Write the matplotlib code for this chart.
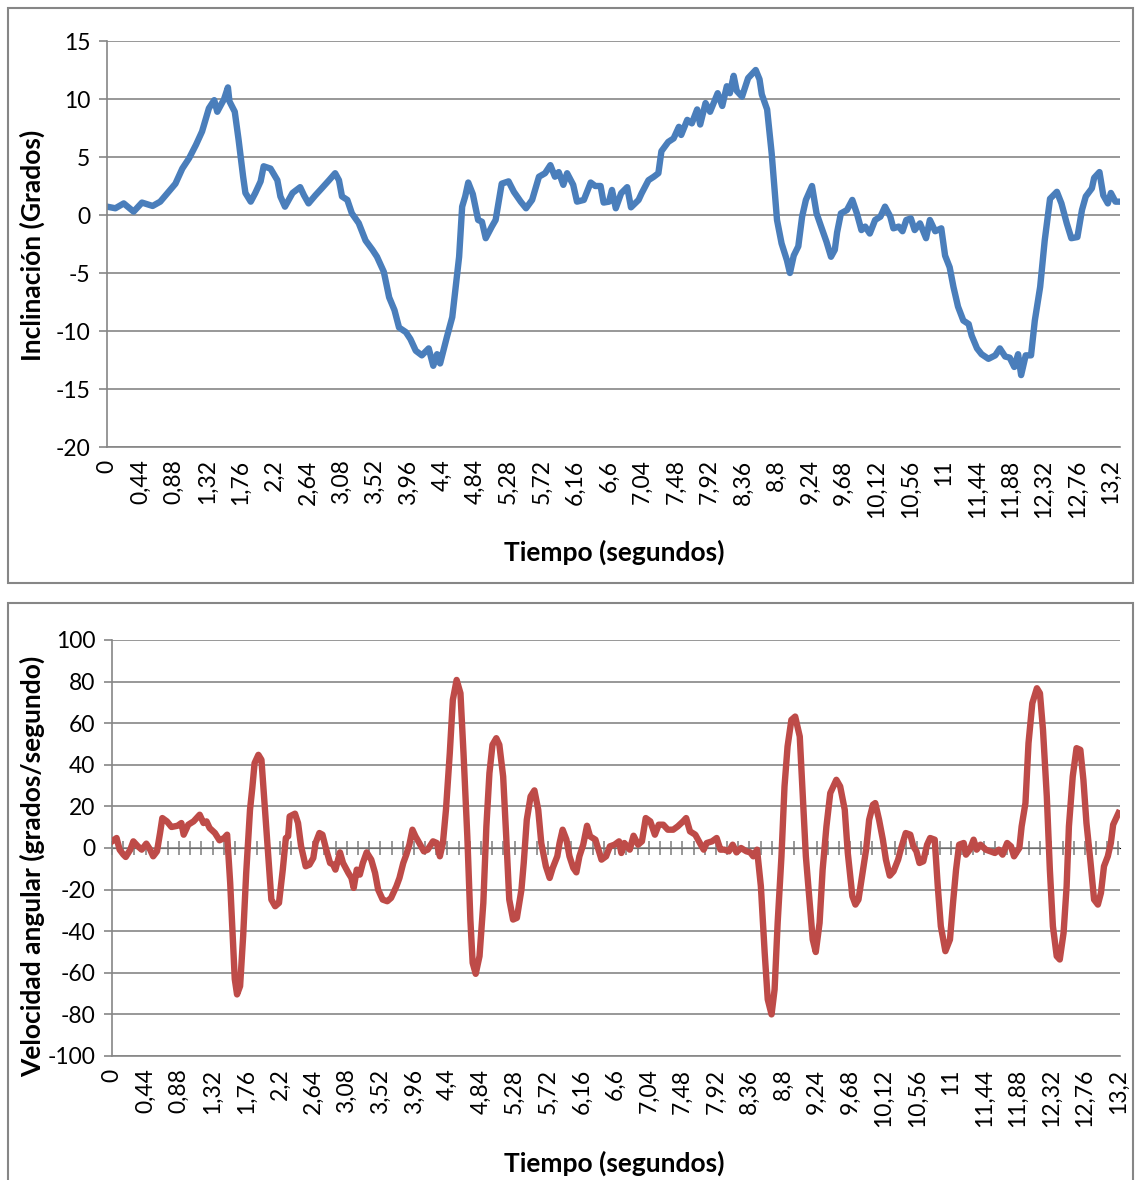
import matplotlib
matplotlib.use("Agg")
import matplotlib.pyplot as plt
from matplotlib.patches import Rectangle

plt.rcParams['font.family'] = ['Lato', 'DejaVu Sans']
plt.rcParams['axes.unicode_minus'] = False

# tilt angle (degrees) vs time (s)
t_incl = [0, 0.11, 0.22, 0.35, 0.46, 0.6, 0.7, 0.81, 0.9, 0.99, 1.08, 1.17, 1.25, 1.34, 1.41,
          1.45, 1.54, 1.59, 1.61, 1.68, 1.73, 1.79, 1.82, 1.89, 1.95, 2.02, 2.06, 2.15, 2.24,
          2.28, 2.34, 2.44, 2.54, 2.59, 2.65, 2.74, 2.81, 2.92, 3.0, 3.05, 3.09, 3.16, 3.22,
          3.31, 3.4, 3.49, 3.55, 3.64, 3.71, 3.78, 3.84, 3.93, 3.99, 4.06, 4.14, 4.23, 4.29,
          4.34, 4.38, 4.47, 4.54, 4.63, 4.67, 4.71, 4.75, 4.81, 4.88, 4.93, 4.98, 5.06, 5.11,
          5.19, 5.28, 5.35, 5.44, 5.51, 5.59, 5.68, 5.76, 5.83, 5.89, 5.94, 6.0, 6.05, 6.13,
          6.18, 6.27, 6.36, 6.42, 6.49, 6.53, 6.6, 6.64, 6.69, 6.76, 6.84, 6.89, 6.99, 7.03,
          7.12, 7.19, 7.25, 7.29, 7.38, 7.45, 7.52, 7.55, 7.63, 7.69, 7.76, 7.8, 7.87, 7.93,
          8.03, 8.09, 8.15, 8.19, 8.24, 8.28, 8.35, 8.43, 8.53, 8.58, 8.61, 8.68, 8.74, 8.81,
          8.87, 8.94, 8.98, 9.03, 9.09, 9.14, 9.19, 9.27, 9.33, 9.39, 9.46, 9.52, 9.57, 9.6,
          9.65, 9.73, 9.8, 9.86, 9.92, 9.97, 10.03, 10.1, 10.17, 10.23, 10.3, 10.34, 10.41,
          10.46, 10.51, 10.57, 10.62, 10.69, 10.77, 10.82, 10.89, 10.97, 11.02, 11.08, 11.13,
          11.19, 11.26, 11.33, 11.37, 11.44, 11.5, 11.59, 11.68, 11.74, 11.81, 11.87, 11.93,
          11.98, 12.02, 12.08, 12.15, 12.2, 12.27, 12.33, 12.4, 12.49, 12.55, 12.62, 12.68,
          12.76, 12.82, 12.87, 12.95, 12.98, 13.05, 13.1, 13.16, 13.2, 13.26, 13.32]
incl = [0.72, 0.58, 1.0, 0.29, 1.07, 0.78, 1.15, 2.0, 2.7, 4.0, 4.9, 6.05, 7.2, 9.2, 9.9,
        8.9, 10.0, 11.0, 9.8, 8.9, 6.5, 3.3, 1.9, 1.15, 1.9, 2.9, 4.2, 4.0, 3.0,
        1.6, 0.72, 1.9, 2.4, 1.7, 1.0, 1.7, 2.2, 3.0, 3.6, 3.0, 1.6, 1.3, 0.14,
        -0.7, -2.2, -3.0, -3.6, -4.9, -7.1, -8.2, -9.7, -10.1, -10.7, -11.7, -12.1, -11.5, -13.0,
        -12.0, -12.8, -10.5, -8.8, -3.6, 0.72, 1.6, 2.8, 1.8, -0.43, -0.58, -2.0, -1.0, -0.43,
        2.7, 2.9, 2.0, 1.15, 0.58, 1.3, 3.3, 3.6, 4.3, 3.3, 3.7, 2.6, 3.6, 2.6,
        1.15, 1.3, 2.8, 2.5, 2.5, 1.07, 1.15, 2.16, 0.58, 1.87, 2.4, 0.66, 1.3, 1.87,
        3.0, 3.3, 3.6, 5.5, 6.3, 6.6, 7.6, 6.9, 8.2, 7.9, 9.1, 7.8, 9.65, 8.9,
        10.5, 9.4, 11.1, 10.5, 12.0, 10.7, 10.2, 11.8, 12.5, 11.7, 10.4, 9.1, 5.3, -0.43,
        -2.45, -3.9, -5.0, -3.5, -2.7, -0.14, 1.3, 2.5, 0.14, -1.0, -2.3, -3.6, -3.0, -1.5,
        0.14, 0.43, 1.3, 0.14, -1.3, -1.0, -1.6, -0.43, -0.14, 0.72, -0.14, -1.15, -1.0,
        -1.4, -0.43, -0.29, -1.3, -0.72, -2.0, -0.43, -1.4, -1.15, -3.5, -4.5, -6.2,
        -7.9, -9.1, -9.4, -10.4, -11.5, -12.0, -12.4, -12.1, -11.5, -12.2, -12.3, -13.1,
        -12.0, -13.8, -12.1, -12.1, -9.1, -6.2, -2.2, 1.4, 2.0, 1.0, -0.72, -2.0,
        -1.9, 0.43, 1.6, 2.3, 3.2, 3.7, 1.7, 1.0, 1.9, 1.15, 1.15]

# angular velocity (deg/s) vs time (s)
t_vel = [0, 0.06, 0.1, 0.15, 0.18, 0.24, 0.28, 0.34, 0.39, 0.45, 0.5, 0.54, 0.59, 0.63, 0.66,
         0.72, 0.78, 0.86, 0.91, 0.94, 1.0, 1.07, 1.15, 1.2, 1.24, 1.28, 1.35, 1.41, 1.47,
         1.51, 1.55, 1.59, 1.61, 1.64, 1.68, 1.72, 1.76, 1.81, 1.84, 1.87, 1.92, 1.96, 2.0,
         2.05, 2.09, 2.14, 2.19, 2.24, 2.28, 2.31, 2.33, 2.4, 2.44, 2.48, 2.54, 2.59, 2.64,
         2.67, 2.72, 2.76, 2.81, 2.86, 2.9, 2.93, 2.99, 3.03, 3.1, 3.14, 3.17, 3.21, 3.25,
         3.29, 3.34, 3.4, 3.45, 3.49, 3.55, 3.61, 3.66, 3.73, 3.77, 3.82, 3.86, 3.9, 3.94,
         3.98, 4.03, 4.09, 4.14, 4.21, 4.26, 4.3, 4.34, 4.38, 4.43, 4.47, 4.52, 4.57, 4.61,
         4.66, 4.7, 4.73, 4.77, 4.82, 4.87, 4.91, 4.95, 4.99, 5.04, 5.08, 5.13, 5.17, 5.21,
         5.26, 5.31, 5.37, 5.4, 5.44, 5.49, 5.54, 5.59, 5.63, 5.69, 5.74, 5.78, 5.84, 5.87,
         5.91, 5.96, 6.0, 6.05, 6.09, 6.13, 6.18, 6.23, 6.27, 6.34, 6.42, 6.48, 6.53, 6.59,
         6.65, 6.68, 6.72, 6.79, 6.84, 6.9, 6.95, 7.0, 7.06, 7.12, 7.17, 7.23, 7.29, 7.36,
         7.42, 7.49, 7.53, 7.58, 7.65, 7.71, 7.76, 7.8, 7.87, 7.93, 7.98, 8.03, 8.09, 8.14,
         8.19, 8.25, 8.32, 8.37, 8.41, 8.46, 8.51, 8.56, 8.6, 8.65, 8.69, 8.73, 8.78, 8.82,
         8.86, 8.91, 8.96, 9.02, 9.06, 9.1, 9.15, 9.19, 9.23, 9.28, 9.32, 9.37, 9.42, 9.5,
         9.55, 9.61, 9.65, 9.71, 9.75, 9.79, 9.85, 9.89, 9.93, 9.98, 10.01, 10.06, 10.11,
         10.15, 10.2, 10.25, 10.31, 10.35, 10.41, 10.47, 10.51, 10.55, 10.59, 10.64, 10.69,
         10.73, 10.79, 10.83, 10.87, 10.93, 10.99, 11.03, 11.07, 11.11, 11.17, 11.2, 11.25,
         11.3, 11.34, 11.39, 11.46, 11.52, 11.58, 11.63, 11.68, 11.74, 11.79, 11.83, 11.9,
         11.93, 11.98, 12.02, 12.07, 12.13, 12.17, 12.21, 12.26, 12.3, 12.34, 12.39, 12.43,
         12.48, 12.52, 12.55, 12.6, 12.65, 12.7, 12.74, 12.78, 12.83, 12.88, 12.93, 12.97,
         13.01, 13.06, 13.1, 13.13, 13.2]
vel = [3.2, 4.8, -0.8, -3.2, -4.3, -0.8, 3.2, 0.8, -0.8, 2.1, -0.8, -4.0, -1.6, 7.2, 14.4,
       12.8, 10.1, 10.7, 12.0, 6.4, 11.2, 12.8, 16.0, 12.0, 12.8, 9.6, 7.2, 3.7, 4.8,
       6.4, -16.8, -47.2, -63.0, -70.4, -66.4, -42.4, -12.0, 18.4, 28.8, 40.8, 44.8, 42.4, 21.6,
       -4.0, -24.8, -28.0, -26.4, -10.4, 4.8, 5.6, 15.2, 16.5, 12.0, 0.8, -8.8, -8.0, -4.8,
       2.4, 7.2, 6.4, -0.8, -7.2, -8.0, -10.4, -2.1, -7.2, -12.0, -14.4, -19.2, -10.4, -12.8,
       -7.2, -2.1, -5.6, -12.0, -20.0, -24.8, -25.6, -24.0, -18.4, -14.4, -7.2, -3.2, 1.6, 8.8,
       5.6, 2.4, -1.6, -0.8, 3.2, 2.4, -4.0, 2.4, 18.4, 45.6, 71.2, 80.8, 74.4, 45.6,
       5.6, -34.4, -55.2, -60.5, -52.0, -26.4, 10.4, 36.0, 49.6, 52.8, 49.6, 34.4, 5.6, -24.8,
       -34.4, -33.6, -20.0, -7.2, 13.6, 24.8, 27.7, 18.4, 2.4, -8.8, -14.4, -9.6, -4.0, 2.4,
       8.8, 4.0, -4.0, -9.6, -11.7, -4.0, 1.6, 10.7, 5.6, 4.0, -5.6, -4.0, 0.8, 1.6,
       3.2, -2.4, 2.4, -0.8, 5.9, 1.6, 3.2, 14.4, 12.8, 6.4, 11.2, 11.2, 8.8, 8.8,
       10.4, 12.8, 14.4, 8.0, 6.4, 2.4, -0.8, 2.4, 3.2, 4.8, -0.8, -0.8, -1.6, 1.6,
       -2.1, 0.0, -1.6, -2.1, -4.0, -0.8, -18.4, -50.4, -72.8, -80.0, -68.0, -36.0, -4.0, 29.6,
       48.8, 61.6, 63.2, 53.6, 24.8, -4.0, -26.4, -44.0, -50.0, -36.0, -10.4, 10.4, 26.4, 32.8,
       29.6, 18.4, -2.4, -23.2, -27.2, -24.8, -10.4, -0.8, 13.6, 20.8, 21.6, 13.6, 4.0,
       -5.6, -13.3, -11.2, -5.6, 0.0, 7.2, 6.4, 0.8, -1.6, -7.2, -6.4, 1.6,
       4.8, 4.0, -18.4, -37.6, -49.6, -44.0, -26.4, -10.4, 1.6, 2.4, -3.2, -0.8,
       4.0, -0.8, 1.6, -0.8, -1.6, -2.4, -0.8, -3.2, 2.4, 0.8, -4.0, 0.0,
       10.4, 21.6, 50.4, 69.6, 76.8, 74.4, 56.8, 24.8, -10.4, -37.6, -52.0, -53.6,
       -40.8, -18.4, 10.4, 34.4, 48.0, 47.2, 32.8, 12.0, -5.6, -24.8, -27.2, -21.6,
       -8.8, -4.0, 2.4, 11.2, 16.8]

tick_vals = [i * 0.44 for i in range(31)]
tick_labels = ['0', '0,44', '0,88', '1,32', '1,76', '2,2', '2,64', '3,08', '3,52', '3,96',
               '4,4', '4,84', '5,28', '5,72', '6,16', '6,6', '7,04', '7,48', '7,92', '8,36',
               '8,8', '9,24', '9,68', '10,12', '10,56', '11', '11,44', '11,88', '12,32',
               '12,76', '13,2']

W, H = 1136, 1180
grey = '#868686'
fig = plt.figure(figsize=(W / 100, H / 100), dpi=100)


def px(x0, y0, x1, y1):
    return [x0 / W, 1 - y1 / H, (x1 - x0) / W, (y1 - y0) / H]


def style(ax, yticks, ylim, xmax):
    ax.set_xlim(0, xmax)
    ax.set_ylim(*ylim)
    ax.set_yticks(yticks)
    ax.grid(axis='y', color=grey, linewidth=1.2)
    ax.set_axisbelow(True)
    for s in ['top', 'right']:
        ax.spines[s].set_visible(False)
    for s in ['left', 'bottom']:
        ax.spines[s].set_color(grey)
        ax.spines[s].set_linewidth(1.2)
    ax.tick_params(axis='y', direction='out', length=6, width=1.2, color=grey,
                   labelsize=16.5, pad=6)
    ax.set_xticks(tick_vals)
    ax.set_xticklabels(tick_labels, rotation=90, fontsize=16.5, va='top', ha='center')
    ax.tick_params(axis='x', length=0, pad=9)


# panel borders
fig.patches.append(Rectangle((8 / W, 1 - 583 / H), 1125 / W, 575 / H, transform=fig.transFigure,
                             fill=False, edgecolor=grey, linewidth=1.5))
fig.patches.append(Rectangle((8 / W, 1 - 1195 / H), 1125 / W, 592 / H, transform=fig.transFigure,
                             fill=False, edgecolor=grey, linewidth=1.5))

ax1 = fig.add_axes(px(107, 41, 1120, 447))
ax1.plot(t_incl, incl, color='#4A7EBB', linewidth=4.6, solid_joinstyle='round')
style(ax1, range(-20, 16, 5), (-20, 15), 13.32)

ax2 = fig.add_axes(px(112, 640, 1120, 1056))
ax2.plot(t_vel, vel, color='#BE4B48', linewidth=4.6, solid_joinstyle='round', zorder=3)
style(ax2, range(-100, 101, 20), (-100, 100), 13.22)

# axis crossing at zero with tick marks
sec = ax2.secondary_xaxis(0.5)
sec.spines['bottom'].set_color(grey)
sec.spines['bottom'].set_linewidth(1.2)
sec.set_xticks([i * 0.44 / 3 for i in range(91)])
sec.set_xticklabels([])
sec.tick_params(direction='inout', length=10, width=1.2, color=grey)

fig.text(32 / W, 1 - 245 / H, 'Inclinación (Grados)', rotation=90, ha='center', va='center',
         fontsize=19, fontweight='bold')
fig.text(614 / W, 1 - 552 / H, 'Tiempo (segundos)', ha='center', va='center',
         fontsize=19, fontweight='bold')
fig.text(32 / W, 1 - 866 / H, 'Velocidad angular (grados/segundo)', rotation=90, ha='center',
         va='center', fontsize=19, fontweight='bold')
fig.text(614 / W, 1 - 1163 / H, 'Tiempo (segundos)', ha='center', va='center',
         fontsize=19, fontweight='bold')

fig.savefig('out.png', dpi=100)
